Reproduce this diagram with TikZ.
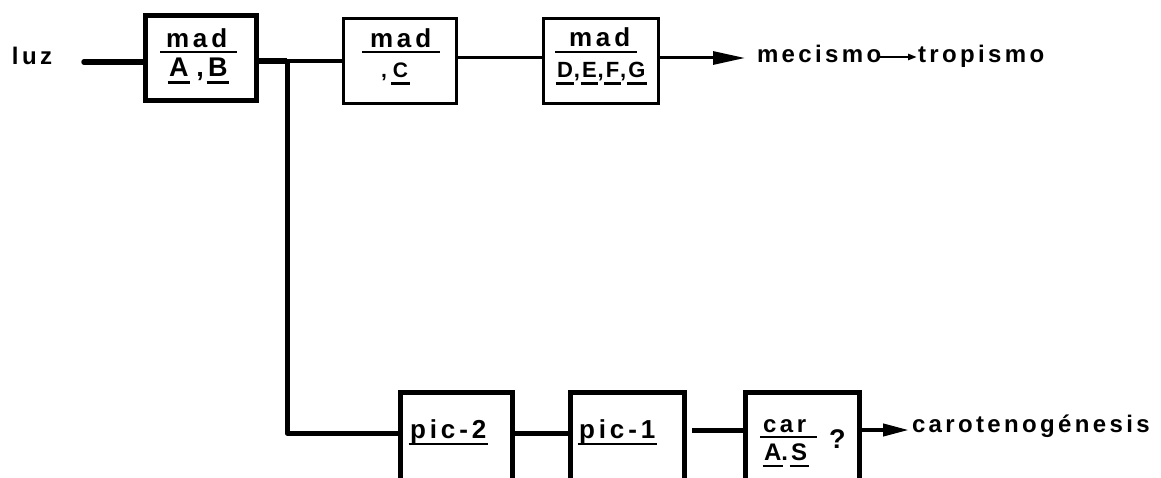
\documentclass[tikz,border=0pt]{standalone}
\usepackage{fontspec}
\setmainfont{Liberation Sans}
\newfontfamily\labfont[LetterSpace=14]{Liberation Sans Bold}
\newfontfamily\boxfont[LetterSpace=15]{Liberation Sans Bold}
\newfontfamily\capfont{Liberation Sans Bold}
\usetikzlibrary{arrows.meta}
\newcommand\myul[1]{\setbox0\hbox{#1}\rlap{\kern-1.5pt\rule[-7pt]{\dimexpr\wd0+3pt\relax}{2.5pt}}\box0}
\begin{document}
\begin{tikzpicture}[x=1pt,y=-1pt,
  txt/.style={inner sep=0pt, outer sep=0pt, anchor=base west},
  big/.style={txt, font=\labfont\fontsize{24}{24}\selectfont},
  small/.style={txt, font=\boxfont\fontsize{26}{26}\selectfont},
  capsz/.style={txt, font=\capfont\fontsize{#1}{#1}\selectfont},
  boxthick/.style={draw, line width=5pt, inner sep=0pt, minimum height=85pt},
  boxthin/.style={draw, line width=3pt, inner sep=0pt, minimum height=85pt},
  boxlow/.style={draw, line width=5pt, inner sep=0pt, minimum height=130pt},
  frac/.style={line width=2.5pt},
  wire/.style={line width=#1},
  bigtip/.style={-{Triangle[length=32pt,width=13pt]}},
]
\useasboundingbox (0,0) rectangle (1161,478);
\fill[white] (0,0) rectangle (1161,478);
\clip (0,0) rectangle (1161,478);

% top row boxes
\node[boxthick, minimum width=111pt] (ab) at (201,58) {};
\node[boxthin, minimum width=113pt] (c) at (400,61) {};
\node[boxthin, minimum width=115pt] (defg) at (601,61) {};

% bottom row boxes (cut by lower edge)
\node[boxlow, minimum width=112pt] (pic2) at (456.5,457.5) {};
\node[boxlow, minimum width=114pt] (pic1) at (627.5,457.5) {};
\node[boxlow, minimum width=114pt] (car) at (802.5,457.5) {};

% box contents
\node[small] (abT) at (166,48) {mad};
\draw[frac] (160,52) -- (237,52);
\node[capsz=27] (abB) at (169,77) {\myul{A}\hspace{8pt},\hspace{4pt}\myul{B}};

\node[small] (cT) at (370,48) {mad};
\draw[frac] (362,52) -- (440,52);
\node[capsz=21] (cB) at (381,78) {,\hspace{6pt}\myul{C}};

\node[small] (dT) at (569,47) {mad};
\draw[frac] (555,52) -- (637,52);
\node[capsz=22] (dB) at (557,78) {\myul{D}\hspace{1pt},\hspace{2pt}\myul{E}\hspace{1pt},\hspace{2pt}\myul{F}\hspace{1pt},\hspace{2pt}\myul{G}};

\node[small] (p2T) at (410,438) {\myul{pic-2}};
\node[small] (p1T) at (579,438) {\myul{pic-1}};

\node[small, font=\boxfont\fontsize{24}{24}\selectfont] (carT) at (763,432) {car};
\draw[frac] (760,437) -- (817,437);
\node[capsz=24] (carB) at (764,460) {\myul{A}.\hspace{3pt}\myul{S}};
\node[capsz=27] (q) at (829,448) {?};

% outside labels
\node[big] (luz) at (12,65) {luz};
\node[big] (mec) at (757,63) {mecismo};
\node[big] (trop) at (918,63) {tropismo};
\node[big] (caro) at (912,432) {carotenogénesis};

% connectors
\coordinate (luzend) at (84,62);
\coordinate (junc) at (287,61);
\coordinate (toprow) at (700,58);
\coordinate (arrA) at (745,58);
\coordinate (mid) at (900,57);
\coordinate (bot) at (287,433);
\coordinate (lvl2) at (700,430);
\coordinate (arrB) at (909,430);

\draw[wire=5.5pt, line cap=round] (luzend) -- (luzend -| ab.west);
\draw[wire=5.5pt] (ab.east |- junc) -- (junc);
\draw[wire=3.5pt] (junc) -- (junc -| c.west);
\draw[wire=3pt] (c.east |- toprow) -- (defg.west |- toprow);
\draw[wire=3pt, bigtip] (defg.east |- toprow) -- (arrA);
\draw[wire=2.5pt, -{Triangle[length=9pt,width=6pt]}] ([xshift=-2pt]mec.east |- mid) -- ([xshift=-1pt]trop.west |- mid);

\draw[wire=5pt, line join=round] ([yshift=-2pt]junc) -- (bot) -- (bot -| pic2.west);
\draw[wire=5pt] (pic2.east |- bot) -- (pic1.west |- bot);
\draw[wire=5pt] ([xshift=5pt]pic1.east |- lvl2) -- (car.west |- lvl2);
\draw[wire=4pt, -{Triangle[length=26pt,width=12pt]}] (car.east |- lvl2) -- (arrB);
\end{tikzpicture}
\end{document}
